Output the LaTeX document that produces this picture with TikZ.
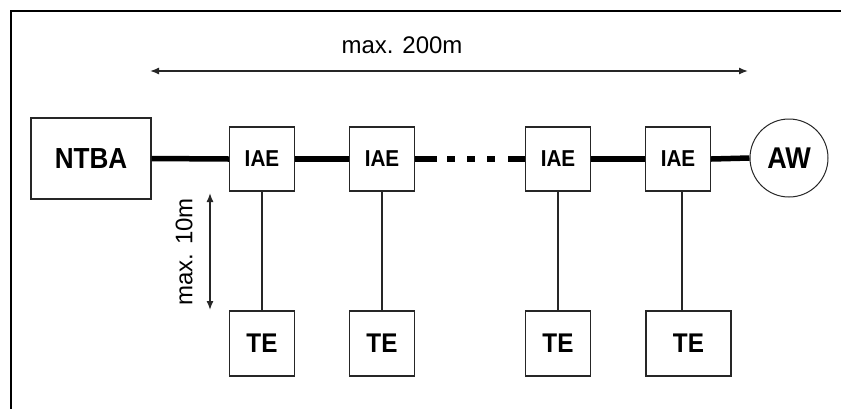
\documentclass[tikz,border=0pt]{standalone}
\usepackage{fontspec}
\setmainfont{Liberation Sans}
\newfontfamily\boxfont[FakeStretch=0.9]{Liberation Sans}
\usetikzlibrary{arrows.meta}
\begin{document}
\begin{tikzpicture}[x=1pt,y=-1pt,
  box/.style={draw=black!85, line width=1.3pt, inner sep=0pt},
  iaebox/.style={box, minimum width=65pt, minimum height=64pt, font=\boxfont\bfseries\fontsize{23}{23}\selectfont},
  tebox/.style={box, minimum height=65pt, font=\boxfont\bfseries\fontsize{27}{27}\selectfont},
  bus/.style={line width=5.5pt, black},
  drop/.style={line width=2pt, black!85},
  dim/.style={line width=1.4pt, black!85, {Latex[length=9pt,width=7pt]}-{Latex[length=9pt,width=7pt]}},
  lbl/.style={font=\fontsize{24}{24}\selectfont, inner sep=0pt}]
\useasboundingbox (0,0) rectangle (841,408);
\fill[white] (0,0) rectangle (841,408);
% frame
\coordinate (fbl) at (11,410);
\coordinate (ftl) at (11,11);
\coordinate (ftr) at (843,11);
\draw[line width=1.3pt, black] (fbl) -- (ftl) -- (ftr);
% nodes
\node[box, minimum width=120pt, minimum height=81pt, font=\boxfont\bfseries\fontsize{29}{29}\selectfont] (ntba) at (91,158.5) {NTBA};
\node[iaebox] (iae1) at (262,159) {IAE};
\node[iaebox] (iae2) at (382,159) {IAE};
\node[iaebox] (iae3) at (558,159) {IAE};
\node[iaebox] (iae4) at (678,159) {IAE};
\node[circle, draw=black!85, line width=1pt, minimum size=78pt, inner sep=0pt, font=\boxfont\bfseries\fontsize{30}{30}\selectfont] (aw) at (789,158) {AW};
\node[tebox, minimum width=65pt] (te1) at (262,343.5) {TE};
\node[tebox, minimum width=65pt] (te2) at (382,343.5) {TE};
\node[tebox, minimum width=65pt] (te3) at (558,343.5) {TE};
\node[tebox, minimum width=85pt] (te4) at (688.5,343.5) {TE};
% bus
\draw[bus] (ntba.east) -- (iae1.west);
\draw[bus] (iae1.east) -- (iae2.west);
\draw[bus, dash pattern=on 22pt off 10pt on 8pt off 12pt on 8pt off 12pt on 8pt off 13pt on 18pt] (iae2.east) -- (iae3.west);
\draw[bus] (iae3.east) -- (iae4.west);
\draw[bus] (iae4.east) -- (aw.west);
% drops
\draw[drop] (iae1.south) -- (te1.north);
\draw[drop] (iae2.south) -- (te2.north);
\draw[drop] (iae3.south) -- (te3.north);
\draw[drop] ([xshift=4pt]iae4.south) -- ([xshift=4pt]iae4.south |- te4.north);
% dimensions
\coordinate (hl) at (150,71);
\coordinate (hr) at (748,71);
\draw[dim] (hl) -- (hr);
\node[lbl] (t200) at (402,45) {max. 200m};
\coordinate (vt) at (210,193);
\coordinate (vb) at (210,310);
\draw[dim] (vt) -- (vb);
\node[lbl, rotate=90] (t10) at (184,252) {max. 10m};
\end{tikzpicture}
\end{document}
